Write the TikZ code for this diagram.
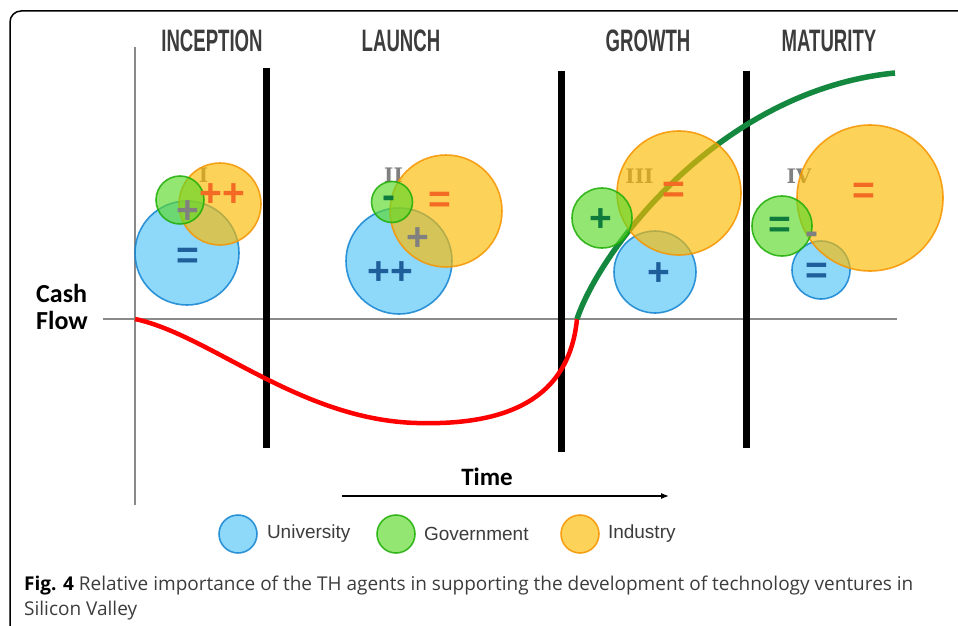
\documentclass[tikz,border=0pt]{standalone}
\usepackage{fontspec}
\setmainfont{Liberation Sans}
\newfontfamily\headfont[FakeStretch=0.6]{Liberation Sans}
\newfontfamily\cashfont{Carlito}
\newfontfamily\numfont{DejaVu Serif}
\newfontfamily\capfont{Open Sans}
\usepackage{tikz}
\usetikzlibrary{positioning,arrows.meta}

\definecolor{unifill}{HTML}{52C3F8}
\definecolor{uniline}{HTML}{1484D0}
\definecolor{govfill}{HTML}{5BD928}
\definecolor{govline}{HTML}{1FAD08}
\definecolor{indfill}{HTML}{FCBA00}
\definecolor{indline}{HTML}{F69500}
\definecolor{unisign}{HTML}{1E5E9A}
\definecolor{govsign}{HTML}{0E7A3C}
\definecolor{indsign}{HTML}{F36A24}
\definecolor{graysign}{HTML}{808080}
\definecolor{axisgray}{HTML}{8A8A8A}
\definecolor{flowgreen}{HTML}{13883E}
\definecolor{headgray}{HTML}{3C3C3C}

\tikzset{
  agent/.style={shape=circle, inner sep=0pt, line width=1.6pt, fill opacity=0.65, draw opacity=0.85},
  uni/.style={agent, draw=uniline, fill=unifill},
  gov/.style={agent, draw=govline, fill=govfill},
  ind/.style={agent, draw=indline, fill=indfill},
  sign/.style={inner sep=0pt, font=\bfseries\fontsize{39}{39}\selectfont},
  phase/.style={anchor=base, text=headgray, font=\headfont\bfseries\fontsize{31}{31}\selectfont},
  roman/.style={anchor=base, text=graysign, font=\numfont\bfseries\fontsize{20}{20}\selectfont},
  bar/.style={line width=7pt},
  legend/.style={inner sep=0pt, text=headgray, font=\fontsize{19}{19}\selectfont},
  caption/.style={anchor=base west, inner sep=0pt, text=headgray, font=\capfont\fontsize{19}{19}\selectfont}
}

\begin{document}
\begin{tikzpicture}[x=1pt, y=-1pt]
\useasboundingbox (0,0) rectangle (958,626);
\draw[line width=1.5pt, rounded corners=11pt] (10,626) -- (10,11) -- (958,11);

% phases
\node[phase] (inc) at (212,52) {INCEPTION};
\node[phase] (lau) at (401,52) {LAUNCH};
\node[phase] (gro) at (648,52) {GROWTH};
\node[phase] (mat) at (829,52) {MATURITY};

% axes
\coordinate (ytop) at (135,47);
\coordinate (ybot) at (135,505);
\coordinate (xl) at (103,319);
\coordinate (xr) at (897,319);
\draw[axisgray, line width=1.2pt] (ytop) -- (ybot);
\draw[axisgray, line width=1.5pt] (xl) -- (xr);
\node[anchor=west, inner sep=0pt, align=left, font=\cashfont\bfseries\fontsize{26}{27}\selectfont] (cash) at (36,307) {Cash\\Flow};

% phase bars
\draw[bar] (266.5,68) -- (266.5,448);
\draw[bar] (561,71) -- (561,452);
\draw[bar] (746.5,71) -- (746.5,448);

% cash flow
\coordinate (O) at (135,319);
\coordinate (B) at (577,319);
\coordinate (E) at (895,73);
\draw[red, line width=4.5pt] (O) .. controls (210,335) and (300,420) .. (417,423) .. controls (520,426) and (570,390) .. (B);
\draw[flowgreen, line width=5.5pt] (B) .. controls (600,250) and (720,90) .. (E);

% stage numbers
\node[roman] at (203.5,182) {I};
\node[roman] at (393.5,182) {II};
\node[roman] at (639.5,183) {III};
\node[roman] at (799,183) {IV};

% circles
\node[uni, minimum size=104pt] (U1) at (187,253) {};
\node[ind, minimum size=82pt] (I1) at (220,204) {};
\node[gov, minimum size=48pt] (G1) at (180,200) {};
\node[uni, minimum size=106pt] (U2) at (399,261) {};
\node[ind, minimum size=112pt] (I2) at (446,211) {};
\node[gov, minimum size=41pt] (G2) at (392,202) {};
\node[uni, minimum size=82pt] (U3) at (655,272) {};
\node[ind, minimum size=124pt] (I3) at (679,193) {};
\node[gov, minimum size=60pt] (G3) at (602,218) {};
\node[uni, minimum size=58pt] (U4) at (821,270) {};
\node[ind, minimum size=146pt] (I4) at (870,198) {};
\node[gov, minimum size=60pt] (G4) at (782,226) {};

% signs
\node[sign, indsign] at (222,195) {++};
\node[sign, graysign] at (188,212) {+};
\node[sign, unisign] at (188,258) {=};
\node[sign, govsign] at (389,202) {-};
\node[sign, indsign] at (440,202) {=};
\node[sign, graysign] at (418,239) {+};
\node[sign, unisign] at (390,273) {++};
\node[sign, indsign] at (674,192) {=};
\node[sign, govsign] at (601,220) {+};
\node[sign, unisign] at (659,274) {+};
\node[sign, indsign] at (864,193) {=};
\node[sign, govsign] at (780,227) {=};
\node[sign, graysign] at (812,238) {-};
\node[sign, unisign] at (817,273) {=};

% time
\coordinate (t0) at (342,496);
\coordinate (t1) at (669,496);
\draw[-{Latex[length=8pt,width=6pt]}, line width=1.2pt] (t0) -- (t1);
\node[anchor=base, inner sep=0pt, font=\cashfont\bfseries\fontsize{25}{25}\selectfont] (time) at (487,485) {Time};

% legend
\node[uni, minimum size=38pt] (lu) at (238,534) {};
\node[legend, right=9pt of lu] {University};
\node[gov, minimum size=38pt] (lg) at (396,534) {};
\node[legend, right=8pt of lg] {Government};
\node[ind, minimum size=38pt] (li) at (580,534) {};
\node[legend, right=8pt of li] {Industry};

% caption
\node[caption] (cap1) at (24,590) {\textbf{\textcolor{black}{Fig. 4}} Relative importance of the TH agents in supporting the development of technology ventures in};
\node[caption] (cap2) at (24,615) {Silicon Valley};
\end{tikzpicture}
\end{document}
